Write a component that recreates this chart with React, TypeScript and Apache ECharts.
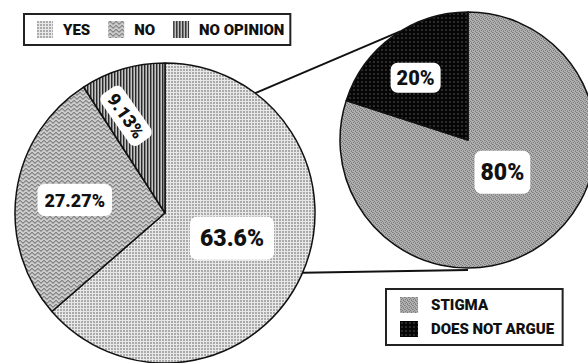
import React, { useEffect, useRef } from "react";
import * as echarts from "echarts";

const mainCategories = ["YES", "NO", "NO OPINION"];
const mainValues = [63.6, 27.27, 9.13];
const mainLabels = ["63.6%", "27.27%", "9.13%"];

const subCategories = ["STIGMA", "DOES NOT ARGUE"];
const subValues = [80, 20];
const subLabels = ["80%", "20%"];

const FONT = "Roboto, 'Liberation Sans', sans-serif";

function makePattern(w: number, h: number, draw: (ctx: CanvasRenderingContext2D) => void) {
  const c = document.createElement("canvas");
  c.width = w;
  c.height = h;
  const ctx = c.getContext("2d") as CanvasRenderingContext2D;
  draw(ctx);
  return { image: c, repeat: "repeat" } as any;
}

export default function App() {
  const ref = useRef<HTMLDivElement>(null);
  useEffect(() => {
    document.body.style.margin = "0";
    const chart = echarts.init(ref.current!, null, { renderer: "svg" });

    const yesPat = makePattern(3, 3, (ctx) => {
      ctx.fillStyle = "#e8e8e8";
      ctx.fillRect(0, 0, 3, 3);
      ctx.fillStyle = "#aaaaaa";
      ctx.fillRect(0, 0, 2, 2);
    });
    const noPat = makePattern(6, 4, (ctx) => {
      ctx.fillStyle = "#cccccc";
      ctx.fillRect(0, 0, 6, 4);
      ctx.fillStyle = "#858585";
      const ys = [1, 0, 0, 1, 2, 2];
      ys.forEach((y, x) => ctx.fillRect(x, y, 1, 1));
      ctx.fillStyle = "#a4a4a4";
      ys.forEach((y, x) => ctx.fillRect(x, y + 1, 1, 1));
    });
    const noOpPat = makePattern(3, 1, (ctx) => {
      ctx.fillStyle = "#2a2a2a";
      ctx.fillRect(0, 0, 1, 1);
      ctx.fillStyle = "#808080";
      ctx.fillRect(1, 0, 1, 1);
      ctx.fillStyle = "#c4c4c4";
      ctx.fillRect(2, 0, 1, 1);
    });
    const stigmaPat = makePattern(4, 4, (ctx) => {
      ctx.fillStyle = "#b0b0b0";
      ctx.fillRect(0, 0, 4, 4);
      ctx.fillStyle = "#7c7c7c";
      ctx.fillRect(0, 0, 1, 1);
      ctx.fillRect(2, 1, 1, 1);
      ctx.fillRect(1, 2, 1, 1);
      ctx.fillRect(3, 3, 1, 1);
      ctx.fillStyle = "#939393";
      ctx.fillRect(1, 0, 1, 1);
      ctx.fillRect(3, 2, 1, 1);
    });
    const darkPat = makePattern(4, 4, (ctx) => {
      ctx.fillStyle = "#060606";
      ctx.fillRect(0, 0, 4, 4);
      ctx.fillStyle = "#2c2c2c";
      ctx.fillRect(1, 1, 2, 2);
    });

    const bigC = [165, 213];
    const bigR = 150;
    const smallC = [468, 140];
    const smallR = 128;
    const pt = (c: number[], r: number, deg: number) => [
      c[0] + r * Math.cos((deg * Math.PI) / 180),
      c[1] - r * Math.sin((deg * Math.PI) / 180),
    ];
    const up1 = pt(bigC, bigR, 53);
    const up2 = pt(smallC, smallR, 122);
    const lo1 = pt(bigC, bigR, -23.5);
    const lo2 = pt(smallC, smallR + 2, -90);

    const mainColors = [yesPat, noPat, noOpPat];
    const subColors = [stigmaPat, darkPat];
    const mainFont = [23, 18, 18];
    const mainRot = [0, 0, -55];
    const mainPad = [[10, 10], [7, 7], [4, 6]];
    const subFont = [23, 20];
    const subPad = [[10, 6], [5, 6]];
    // label nudges (in each label's own rotated frame)
    const mainShift = [[-4, -7], [-13, -2], [-28, 1]];
    const subShift = [[-5, -22], [-13, -8]];

    const labelBase = {
      show: true,
      position: "inside",
      color: "#111",
      fontWeight: 900,
      fontFamily: FONT,
      backgroundColor: "#ffffff",
      borderRadius: 7,
    };

    const legendText = { fontFamily: FONT, fontWeight: 900, fontSize: 15, color: "#111", padding: [0, 0, 0, 5] };

    chart.setOption({
      animation: false,
      backgroundColor: "#ffffff",
      legend: [
        {
          data: mainCategories,
          left: 24,
          top: 14,
          orient: "horizontal",
          icon: "rect",
          itemWidth: 16,
          itemHeight: 17,
          itemGap: 18,
          padding: [7, 6, 7, 13],
          borderColor: "#222",
          borderWidth: 2,
          itemStyle: { borderWidth: 0 },
          textStyle: legendText,
          selectedMode: false,
        },
        {
          data: subCategories,
          left: 386,
          top: 289,
          orient: "vertical",
          icon: "rect",
          itemWidth: 18,
          itemHeight: 16,
          itemGap: 8,
          padding: [8, 8, 8, 14],
          borderColor: "#222",
          borderWidth: 2,
          itemStyle: { borderWidth: 0 },
          textStyle: { ...legendText, padding: [0, 0, 0, 8] },
          selectedMode: false,
        },
      ],
      graphic: [
        { type: "line", shape: { x1: up1[0], y1: up1[1], x2: up2[0], y2: up2[1] }, style: { stroke: "#111", lineWidth: 2 }, z: 10 },
        { type: "line", shape: { x1: lo1[0], y1: lo1[1], x2: lo2[0], y2: lo2[1] }, style: { stroke: "#111", lineWidth: 2 }, z: 10 },
      ],
      series: [
        {
          type: "pie",
          center: bigC,
          radius: bigR,
          startAngle: 90,
          clockwise: true,
          silent: true,
          itemStyle: { borderColor: "#111", borderWidth: 1.5 },
          labelLine: { show: false },
          labelLayout: (p: any) => ({ dx: mainShift[p.dataIndex][0], dy: mainShift[p.dataIndex][1] }),
          data: mainCategories.map((name, i) => ({
            name,
            value: mainValues[i],
            itemStyle: { color: mainColors[i] },
            label: {
              ...labelBase,
              formatter: mainLabels[i],
              fontSize: mainFont[i],
              rotate: mainRot[i],
              padding: mainPad[i],
            },
          })),
        },
        {
          type: "pie",
          center: smallC,
          radius: smallR,
          startAngle: 90,
          clockwise: true,
          silent: true,
          itemStyle: { borderColor: "#111", borderWidth: 1.5 },
          labelLine: { show: false },
          labelLayout: (p: any) => ({ dx: subShift[p.dataIndex][0], dy: subShift[p.dataIndex][1] }),
          data: subCategories.map((name, i) => ({
            name,
            value: subValues[i],
            itemStyle: { color: subColors[i] },
            label: {
              ...labelBase,
              formatter: subLabels[i],
              fontSize: subFont[i],
              padding: subPad[i],
            },
          })),
        },
      ],
    });
    return () => chart.dispose();
  }, []);
  return <div ref={ref} style={{ width: 588, height: 363 }} />;
}
